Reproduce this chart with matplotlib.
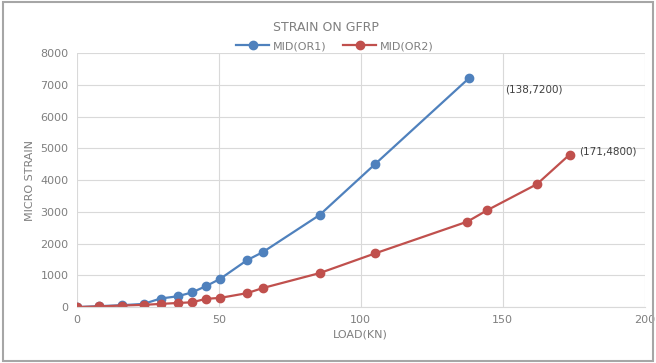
import matplotlib.pyplot as plt

# Values
load_or1 = [0, 8, 16, 23.5, 29.5, 35.5, 40.5, 45.5, 50.5, 60, 65.5, 85.5, 105, 138]
strain_or1 = [0, 30, 60, 100, 270, 340, 460, 660, 890, 1480, 1730, 2900, 4500, 7200]
load_or2 = [0, 8, 16, 23.5, 29.5, 35.5, 40.5, 45.5, 50.5, 60, 65.5, 85.5, 105, 137.5, 144.5, 162, 173.5]
strain_or2 = [0, 20, 50, 70, 100, 130, 150, 260, 290, 440, 600, 1070, 1690, 2690, 3050, 3870, 4800]

blue = '#4F81BD'
red = '#C0504D'
grey = '#7f7f7f'

fig = plt.figure(figsize=(6.56, 3.63), dpi=100)
ax = fig.add_axes([0.117, 0.154, 0.866, 0.700])

ax.plot(load_or1, strain_or1, color=blue, marker='o', markersize=6, lw=1.6, label='MID(OR1)')
ax.plot(load_or2, strain_or2, color=red, marker='o', markersize=6, lw=1.6, label='MID(OR2)')

ax.annotate('(138,7200)', xy=(138, 7200), xytext=(26, -8), textcoords='offset points',
            fontsize=7.5, color='#404040', va='center')
ax.annotate('(171,4800)', xy=(173.5, 4800), xytext=(7, 2), textcoords='offset points',
            fontsize=7.5, color='#404040', va='center')

ax.set_xlim(0, 200)
ax.set_ylim(0, 8000)
ax.set_xticks([0, 50, 100, 150, 200])
ax.set_yticks(range(0, 8001, 1000))
ax.grid(True, color='#d9d9d9', lw=0.8)
ax.set_axisbelow(True)
for s in ['top', 'right', 'left']:
    ax.spines[s].set_visible(False)
ax.spines['bottom'].set_color('#d9d9d9')
ax.tick_params(length=0, labelsize=8, colors=grey, pad=6)
ax.set_xlabel('LOAD(KN)', fontsize=8, color=grey, labelpad=3)
ax.set_ylabel('MICRO STRAIN', fontsize=8, color=grey, labelpad=4)

fig.text(0.497, 0.925, 'STRAIN ON GFRP', ha='center', va='center', fontsize=9, color=grey)
ax.legend(loc='lower center', bbox_to_anchor=(0.454, 0.985), ncol=2, frameon=False,
          fontsize=8, labelcolor=grey, handlelength=3, columnspacing=1.5,
          borderpad=0, handletextpad=0.3)

# outer chart border
fig.patches.append(plt.Rectangle((0.004, 0.006), 0.992, 0.988, transform=fig.transFigure,
                                 fill=False, edgecolor='#a6a6a6', lw=1.5))

fig.savefig('out.png', dpi=100)
